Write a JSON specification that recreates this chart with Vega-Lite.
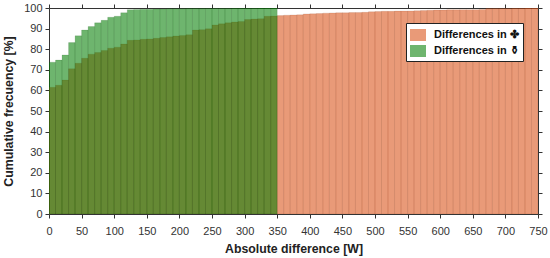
{"$schema":"https://vega.github.io/schema/vega-lite/v6.json","width":489,"height":206,"padding":{"left":49,"top":8,"right":12,"bottom":44},"autosize":"none","background":"white",
"datasets":{"d":[
{"a":0,"b":10,"s":"Differences in ✤","v":61.5},{"a":10,"b":20,"s":"Differences in ✤","v":62.5},{"a":20,"b":30,"s":"Differences in ✤","v":65},{"a":30,"b":40,"s":"Differences in ✤","v":70.5},{"a":40,"b":50,"s":"Differences in ✤","v":73.2},{"a":50,"b":60,"s":"Differences in ✤","v":75.6},{"a":60,"b":70,"s":"Differences in ✤","v":77.6},{"a":70,"b":80,"s":"Differences in ✤","v":78.4},{"a":80,"b":90,"s":"Differences in ✤","v":79.4},{"a":90,"b":100,"s":"Differences in ✤","v":80.5},{"a":100,"b":110,"s":"Differences in ✤","v":81},{"a":110,"b":120,"s":"Differences in ✤","v":82.5},{"a":120,"b":130,"s":"Differences in ✤","v":84.3},{"a":130,"b":140,"s":"Differences in ✤","v":84.5},{"a":140,"b":150,"s":"Differences in ✤","v":84.8},{"a":150,"b":160,"s":"Differences in ✤","v":85},{"a":160,"b":170,"s":"Differences in ✤","v":85.3},{"a":170,"b":180,"s":"Differences in ✤","v":85.7},{"a":180,"b":190,"s":"Differences in ✤","v":86},{"a":190,"b":200,"s":"Differences in ✤","v":86.4},{"a":200,"b":210,"s":"Differences in ✤","v":86.7},{"a":210,"b":220,"s":"Differences in ✤","v":87},{"a":220,"b":230,"s":"Differences in ✤","v":89.3},{"a":230,"b":240,"s":"Differences in ✤","v":89.5},{"a":240,"b":250,"s":"Differences in ✤","v":89.9},{"a":250,"b":260,"s":"Differences in ✤","v":91.8},{"a":260,"b":270,"s":"Differences in ✤","v":92.3},{"a":270,"b":280,"s":"Differences in ✤","v":92.8},{"a":280,"b":290,"s":"Differences in ✤","v":93.2},{"a":290,"b":300,"s":"Differences in ✤","v":93.5},{"a":300,"b":310,"s":"Differences in ✤","v":94.4},{"a":310,"b":320,"s":"Differences in ✤","v":94.6},{"a":320,"b":330,"s":"Differences in ✤","v":94.8},{"a":330,"b":340,"s":"Differences in ✤","v":96},{"a":340,"b":350,"s":"Differences in ✤","v":96.1},{"a":350,"b":360,"s":"Differences in ✤","v":96.3},{"a":360,"b":370,"s":"Differences in ✤","v":96.5},{"a":370,"b":380,"s":"Differences in ✤","v":96.6},{"a":380,"b":390,"s":"Differences in ✤","v":96.7},{"a":390,"b":400,"s":"Differences in ✤","v":97.1},{"a":400,"b":410,"s":"Differences in ✤","v":97.2},{"a":410,"b":420,"s":"Differences in ✤","v":97.3},{"a":420,"b":430,"s":"Differences in ✤","v":97.5},{"a":430,"b":440,"s":"Differences in ✤","v":97.6},{"a":440,"b":450,"s":"Differences in ✤","v":97.7},{"a":450,"b":460,"s":"Differences in ✤","v":97.7},{"a":460,"b":470,"s":"Differences in ✤","v":97.8},{"a":470,"b":480,"s":"Differences in ✤","v":97.8},{"a":480,"b":490,"s":"Differences in ✤","v":97.9},{"a":490,"b":500,"s":"Differences in ✤","v":98.2},{"a":500,"b":510,"s":"Differences in ✤","v":98.3},{"a":510,"b":520,"s":"Differences in ✤","v":98.4},{"a":520,"b":530,"s":"Differences in ✤","v":98.4},{"a":530,"b":540,"s":"Differences in ✤","v":98.5},{"a":540,"b":550,"s":"Differences in ✤","v":98.5},{"a":550,"b":560,"s":"Differences in ✤","v":98.6},{"a":560,"b":570,"s":"Differences in ✤","v":98.7},{"a":570,"b":580,"s":"Differences in ✤","v":98.8},{"a":580,"b":590,"s":"Differences in ✤","v":98.9},{"a":590,"b":600,"s":"Differences in ✤","v":99},{"a":600,"b":610,"s":"Differences in ✤","v":99},{"a":610,"b":620,"s":"Differences in ✤","v":99.1},{"a":620,"b":630,"s":"Differences in ✤","v":99.1},{"a":630,"b":640,"s":"Differences in ✤","v":99.2},{"a":640,"b":650,"s":"Differences in ✤","v":99.2},{"a":650,"b":660,"s":"Differences in ✤","v":99.2},{"a":660,"b":670,"s":"Differences in ✤","v":99.3},{"a":670,"b":680,"s":"Differences in ✤","v":99.7},{"a":680,"b":690,"s":"Differences in ✤","v":99.7},{"a":690,"b":700,"s":"Differences in ✤","v":99.8},{"a":700,"b":710,"s":"Differences in ✤","v":99.8},{"a":710,"b":720,"s":"Differences in ✤","v":99.9},{"a":720,"b":730,"s":"Differences in ✤","v":99.9},{"a":730,"b":740,"s":"Differences in ✤","v":100},{"a":740,"b":750,"s":"Differences in ✤","v":100},
{"a":0,"b":10,"s":"Differences in ⚱","v":73.7},{"a":10,"b":20,"s":"Differences in ⚱","v":74.7},{"a":20,"b":30,"s":"Differences in ⚱","v":77.2},{"a":30,"b":40,"s":"Differences in ⚱","v":83.2},{"a":40,"b":50,"s":"Differences in ⚱","v":86.5},{"a":50,"b":60,"s":"Differences in ⚱","v":89.3},{"a":60,"b":70,"s":"Differences in ⚱","v":91},{"a":70,"b":80,"s":"Differences in ⚱","v":92.8},{"a":80,"b":90,"s":"Differences in ⚱","v":94},{"a":90,"b":100,"s":"Differences in ⚱","v":95.5},{"a":100,"b":110,"s":"Differences in ⚱","v":96},{"a":110,"b":120,"s":"Differences in ⚱","v":97.7},{"a":120,"b":130,"s":"Differences in ⚱","v":99.2},{"a":130,"b":140,"s":"Differences in ⚱","v":99.3},{"a":140,"b":150,"s":"Differences in ⚱","v":99.4},{"a":150,"b":160,"s":"Differences in ⚱","v":99.4},{"a":160,"b":170,"s":"Differences in ⚱","v":99.5},{"a":170,"b":180,"s":"Differences in ⚱","v":99.5},{"a":180,"b":190,"s":"Differences in ⚱","v":99.6},{"a":190,"b":200,"s":"Differences in ⚱","v":99.6},{"a":200,"b":210,"s":"Differences in ⚱","v":99.6},{"a":210,"b":220,"s":"Differences in ⚱","v":99.7},{"a":220,"b":230,"s":"Differences in ⚱","v":99.7},{"a":230,"b":240,"s":"Differences in ⚱","v":99.7},{"a":240,"b":250,"s":"Differences in ⚱","v":99.8},{"a":250,"b":260,"s":"Differences in ⚱","v":99.8},{"a":260,"b":270,"s":"Differences in ⚱","v":99.8},{"a":270,"b":280,"s":"Differences in ⚱","v":99.8},{"a":280,"b":290,"s":"Differences in ⚱","v":99.9},{"a":290,"b":300,"s":"Differences in ⚱","v":99.9},{"a":300,"b":310,"s":"Differences in ⚱","v":99.9},{"a":310,"b":320,"s":"Differences in ⚱","v":99.9},{"a":320,"b":330,"s":"Differences in ⚱","v":100},{"a":330,"b":340,"s":"Differences in ⚱","v":100},{"a":340,"b":350,"s":"Differences in ⚱","v":100}
]},
"data":{"name":"d"},
"config":{"view":{"stroke":null},"font":"Liberation Sans"},
"resolve":{"scale":{"x":"independent","y":"independent"},"axis":{"x":"independent","y":"independent"}},
"layer":[
{"mark":{"type":"bar","fillOpacity":0.57,"strokeOpacity":0.12,"strokeWidth":1,"clip":true},
"encoding":{
"x":{"field":"a","type":"quantitative","scale":{"domain":[0,750],"nice":false},"axis":{"values":[0,50,100,150,200,250,300,350,400,450,500,550,600,650,700,750],"title":"Absolute difference [W]","titleFontSize":12.3,"titleFontWeight":"bold","titleColor":"#222","titlePadding":6,"labelFontSize":11,"labelColor":"#333","labelPadding":7,"labelFlush":false,"labelOverlap":false,"tickSize":4,"tickColor":"#333","domainColor":"#333","grid":false}},
"x2":{"field":"b"},
"y":{"field":"v","type":"quantitative","scale":{"domain":[0,100],"nice":false},"axis":{"values":[0,10,20,30,40,50,60,70,80,90,100],"title":"Cumulative frecuency [%]","titleFontSize":12.3,"titleFontWeight":"bold","titleColor":"#222","titlePadding":8,"labelFontSize":11,"labelColor":"#333","labelPadding":3,"labelFlush":false,"labelOverlap":false,"tickSize":4,"tickColor":"#333","domainColor":"#333","grid":false}},
"y2":{"datum":0},
"color":{"field":"s","type":"nominal","scale":{"domain":["Differences in ✤","Differences in ⚱"],"range":["#d84d12","#007d00"]},"legend":{"title":null,"orient":"none","legendX":357,"legendY":15,"fillColor":"white","strokeColor":"#222","padding":4,"symbolType":"M-1,-0.75H1V0.75H-1Z","symbolSize":256,"symbolStrokeWidth":0,"symbolOpacity":0.57,"labelFontSize":11,"labelFontWeight":"bold","labelColor":"#111","labelOffset":8,"rowPadding":2}},
"stroke":{"field":"s","type":"nominal","scale":{"domain":["Differences in ✤","Differences in ⚱"],"range":["#7a2a08","#004000"]},"legend":null},
"order":{"field":"s","sort":"descending"}
}},
{"mark":{"type":"bar","opacity":0},
"encoding":{
"x":{"field":"a","type":"quantitative","scale":{"domain":[0,750],"nice":false},"axis":{"orient":"top","values":[0,50,100,150,200,250,300,350,400,450,500,550,600,650,700,750],"title":null,"labels":false,"tickSize":4,"tickColor":"#333","domainColor":"#333","grid":false}},
"x2":{"field":"b"},
"y":{"field":"v","type":"quantitative","scale":{"domain":[0,100],"nice":false},"axis":{"orient":"right","values":[0,10,20,30,40,50,60,70,80,90,100],"title":null,"labels":false,"tickSize":4,"tickColor":"#333","domainColor":"#333","grid":false}},
"y2":{"datum":0}
}}
]}
